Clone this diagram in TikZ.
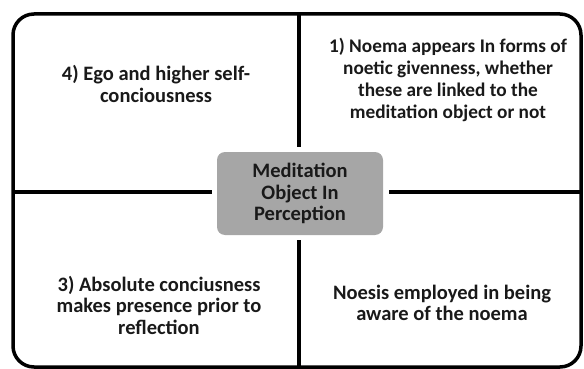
\documentclass[tikz,border=0pt]{standalone}
\usepackage{fontspec}
\setmainfont{Carlito}
\begin{document}
\begin{tikzpicture}[x=1pt,y=-1pt,
  frame/.style={line width=3.5pt,black},
  qtext/.style={align=center,font=\bfseries\fontsize{20.5}{21.5}\selectfont,text=black!90},
  centerbox/.style={fill=black!35,draw=none,rounded corners=8pt,minimum width=166pt,minimum height=83pt,align=center,font=\bfseries\fontsize{20.5}{21.5}\selectfont,text=black!90}]
\useasboundingbox (0,0) rectangle (584,369);
\draw[frame,rounded corners=21pt] (13,14) rectangle (581,367);
\node[centerbox] (c) at (300,193.5) {Meditation\\Object In\\Perception};
\coordinate (topv) at (299,14);
\coordinate (topvend) at (299,147);
\coordinate (botv) at (299,240);
\coordinate (botvend) at (299,367);
\coordinate (lefth) at (13,192);
\coordinate (lefthend) at (212,192);
\coordinate (righth) at (389,192);
\coordinate (righthend) at (581,192);
\draw[frame] (topv) -- (topvend);
\draw[frame] (botv) -- (botvend);
\draw[frame] (lefth) -- (lefthend);
\draw[frame] (righth) -- (righthend);
\node[qtext] (q4) at (156,84) {4) Ego and higher self-\\conciousness};
\node[qtext,font=\bfseries\fontsize{19.3}{22}\selectfont] (q1) at (448,80) {1) Noema appears In forms of\\noetic givenness, whether\\these are linked to the\\meditation object or not};
\node[qtext] (q3) at (159,305) {3) Absolute conciusness\\makes presence prior to\\reflection};
\node[qtext] (q2) at (442,303) {Noesis employed in being\\aware of the noema};
\end{tikzpicture}
\end{document}
